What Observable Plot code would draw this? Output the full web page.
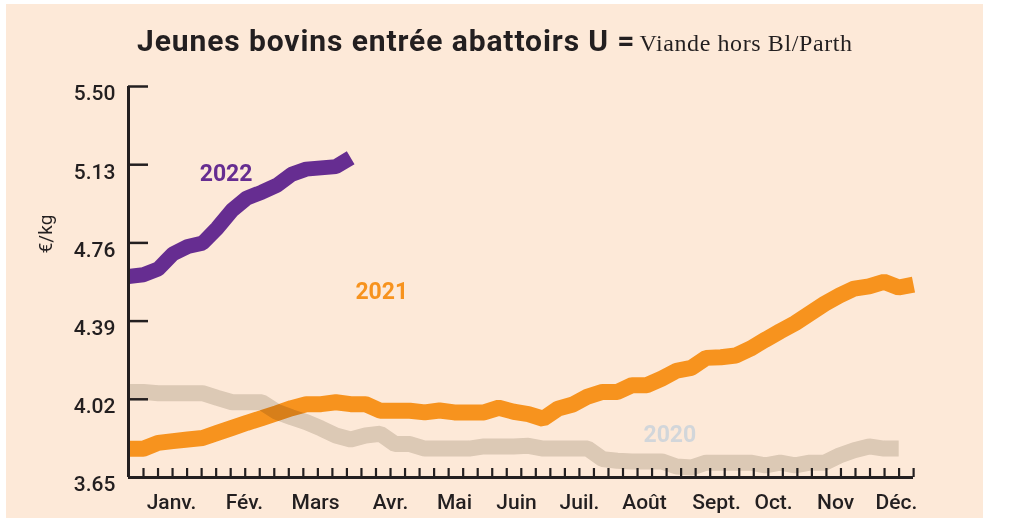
<!DOCTYPE html>
<html>
<head>
<meta charset="utf-8">
<script src="https://cdn.jsdelivr.net/npm/d3@7"></script>
<script src="https://cdn.jsdelivr.net/npm/@observablehq/plot@0.6"></script>
<style>
  html, body { margin: 0; padding: 0; background: #ffffff; width: 1011px; height: 518px; overflow: hidden; }
  #bg { position: absolute; left: 6px; top: 4px; width: 977px; height: 514px; background: #fde9d8; }
  #title { position: absolute; left: 137px; top: 24px; white-space: nowrap; line-height: 34px; color: #231f20; }
  #title .main { font-family: Roboto, sans-serif; font-weight: 700; font-size: 30px; letter-spacing: 0.9px; }
  #title .sub { font-family: "Liberation Serif", serif; font-weight: 400; font-size: 24px; letter-spacing: 0.6px; }
  #ylabel { position: absolute; left: 45px; top: 234px; transform: translate(-50%, -50%) rotate(-90deg);
            font-family: Roboto, sans-serif; font-size: 19px; color: #231f20; white-space: nowrap; }
  #chart { position: absolute; left: 0; top: 60px; }
</style>
</head>
<body>
<div id="bg"></div>
<div id="title"><span class="main">Jeunes bovins entrée abattoirs U =</span> <span class="sub">Viande hors Bl/Parth</span></div>
<div id="ylabel">€/kg</div>
<div id="chart"></div>
<script>
// ---- Data (weekly prices, €/kg) ----
const values2020 = [4.055, 4.055, 4.049, 4.049, 4.049, 4.049, 4.027, 4.006, 4.006, 4.006,
  3.961, 3.935, 3.912, 3.882, 3.849, 3.830, 3.849, 3.857, 3.808, 3.808,
  3.787, 3.787, 3.787, 3.787, 3.797, 3.797, 3.797, 3.800, 3.787, 3.787,
  3.787, 3.787, 3.737, 3.729, 3.726, 3.726, 3.726, 3.702, 3.697, 3.720,
  3.720, 3.720, 3.720, 3.707, 3.720, 3.707, 3.720, 3.720, 3.754, 3.779,
  3.797, 3.787, 3.787];
const values2021 = [3.786, 3.786, 3.814, 3.822, 3.830, 3.837, 3.861, 3.885, 3.909, 3.931,
  3.954, 3.978, 3.997, 3.997, 4.006, 3.997, 3.997, 3.966, 3.966, 3.966,
  3.958, 3.967, 3.958, 3.958, 3.958, 3.980, 3.961, 3.950, 3.928, 3.976,
  3.995, 4.033, 4.055, 4.055, 4.087, 4.087, 4.118, 4.155, 4.169, 4.216,
  4.219, 4.227, 4.260, 4.302, 4.342, 4.380, 4.426, 4.472, 4.511, 4.544,
  4.554, 4.576, 4.549, 4.563];
const values2022 = [4.601, 4.609, 4.636, 4.708, 4.743, 4.759, 4.831, 4.915, 4.973, 5.000,
  5.032, 5.084, 5.109, 5.115, 5.121, 5.163];

const yTicks = [3.65, 4.02, 4.39, 4.76, 5.13, 5.50];
const monthLabels = ["Janv.", "Fév.", "Mars", "Avr.", "Mai", "Juin", "Juil.", "Août", "Sept.", "Oct.", "Nov", "Déc."];
const monthWeeks = [2.9, 7.83, 12.63, 17.69, 22.01, 26.2, 30.45, 34.84, 39.7, 43.55, 47.74, 51.85];
const seriesNames = ["2020", "2021", "2022"];
const seriesLabelX = [36.55, 17.1, 6.59];
const seriesLabelY = [3.853, 4.53, 5.088];

// ---- Build tables ----
const toRows = (vals, year) => vals.map((v, i) => ({week: i, value: v, year}));
const rows2020 = toRows(values2020, "2020");
const rows2021 = toRows(values2021, "2021");
const rows2022 = toRows(values2022, "2022");
const labels = seriesNames.map((s, i) => ({name: s, x: seriesLabelX[i], y: seriesLabelY[i]}));
const months = monthLabels.map((m, i) => ({label: m, x: monthWeeks[i]}));

// minor week ticks along the x axis (54 evenly spaced marks)
const xTicks = d3.range(54).map(i => 1.0128 + i * 0.98103);

const ink = "#231f20";
const colors = {"2020": "#dedcd6", "2021": "#f7931e", "2022": "#662d91"};
const labelColors = {"2020": "#d2d6da", "2021": "#f7931e", "2022": "#662d91"};

const yMin = 3.65, yMax = 5.50;
const tickUpY = yMin + 9 * (yMax - yMin) / 391;   // 9px tick height
const tickRightX = 20 / 14.811;                    // 20px tick length

const chart = Plot.plot({
  width: 1011,
  height: 458,
  marginLeft: 128,
  marginRight: 98,
  marginTop: 26,
  marginBottom: 41,
  style: {background: "transparent", fontFamily: "Roboto, sans-serif", overflow: "visible"},
  x: {domain: [0, 53], axis: null},
  y: {domain: [yMin, yMax], axis: null},
  marks: [
    // lines
    Plot.line(rows2021, {x: "week", y: "value", stroke: colors["2021"], strokeWidth: 16, strokeLinejoin: "miter", strokeLinecap: "butt"}),
    Plot.line(rows2022, {x: "week", y: "value", stroke: colors["2022"], strokeWidth: 15, strokeLinejoin: "miter", strokeLinecap: "butt"}),
    Plot.line(rows2020, {x: "week", y: "value", stroke: colors["2020"], strokeWidth: 16, strokeLinejoin: "miter", strokeLinecap: "butt", mixBlendMode: "multiply"}),
    // axes
    Plot.ruleY(yTicks, {y: d => d, x1: 0, x2: tickRightX, stroke: ink, strokeWidth: 2.5}),
    Plot.ruleX(xTicks, {x: d => d, y1: yMin, y2: tickUpY, stroke: ink, strokeWidth: 2.2}),
    Plot.ruleX([0], {stroke: ink, strokeWidth: 3}),
    Plot.ruleY([yMin], {stroke: ink, strokeWidth: 3}),
    Plot.text(yTicks, {x: 0, y: d => d, text: d => d.toFixed(2), textAnchor: "end", lineAnchor: "top", dx: -13, dy: -1, fontSize: 21, fontWeight: 500, fill: ink}),
    Plot.text(months, {x: "x", y: yMin, text: "label", lineAnchor: "bottom", dy: 31, fontSize: 21, fontWeight: 500, fill: ink}),
    // series labels
    Plot.text(labels, {x: "x", y: "y", text: "name", fill: d => labelColors[d.name], fontSize: 23, fontWeight: 700, lineAnchor: "middle"})
  ]
});
document.getElementById("chart").appendChild(chart);
</script>
</body>
</html>
